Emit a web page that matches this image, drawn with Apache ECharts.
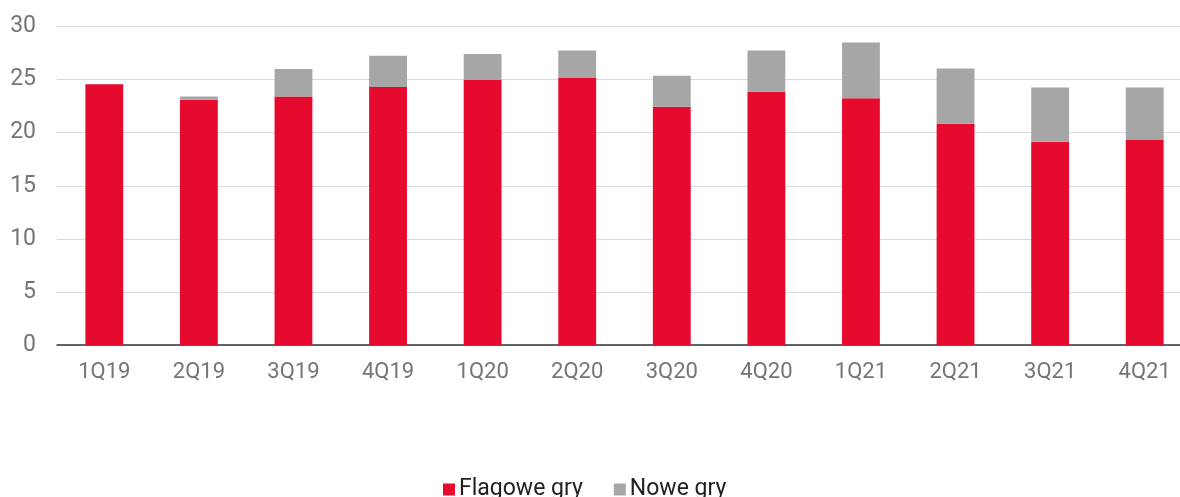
<!DOCTYPE html>
<html>
<head>
<meta charset="utf-8">
<script src="https://cdn.jsdelivr.net/npm/echarts@6/dist/echarts.min.js"></script>
<style>html,body{margin:0;padding:0;background:#fff}#c{width:1180px;height:497px}</style>
</head>
<body>
<div id="c"></div>
<script>
const categories = ['1Q19','2Q19','3Q19','4Q19','1Q20','2Q20','3Q20','4Q20','1Q21','2Q21','3Q21','4Q21'];
const flagowe = [24.55, 23.1, 23.4, 24.3, 24.95, 25.2, 22.45, 23.85, 23.25, 20.85, 19.15, 19.35];
const nowe = [0, 0.3, 2.6, 2.95, 2.45, 2.55, 2.9, 3.9, 5.25, 5.2, 5.1, 4.9];
const seriesNames = ['Flagowe gry', 'Nowe gry'];
const yTicks = { min: 0, max: 30, interval: 5 };

const chart = echarts.init(document.getElementById('c'), null, { renderer: 'canvas' });
chart.setOption({
  animation: false,
  textStyle: { fontFamily: 'Roboto' },
  grid: { left: 57, width: 1135, top: 26.5, height: 318.5, containLabel: false, outerBoundsMode: 'none' },
  legend: {
    data: seriesNames,
    bottom: -4,
    left: 443,
    padding: 0,
    itemWidth: 12,
    itemHeight: 12,
    itemGap: 31,
    icon: 'rect',
    textStyle: { fontSize: 23, color: '#212121', fontFamily: 'Roboto', padding: [0, 0, 0, -1] }
  },
  xAxis: {
    type: 'category',
    data: categories,
    axisLine: { lineStyle: { color: '#333', width: 1.5 } },
    axisTick: { show: false },
    axisLabel: { color: '#757575', fontSize: 22, margin: 16 }
  },
  yAxis: {
    type: 'value',
    min: yTicks.min, max: yTicks.max, interval: yTicks.interval,
    axisLine: { show: false },
    axisTick: { show: false },
    splitLine: { lineStyle: { color: '#dadada', width: 1.2 } },
    axisLabel: { color: '#757575', fontSize: 23, margin: 21 }
  },
  series: [
    { name: seriesNames[0], type: 'bar', stack: 's', data: flagowe, barWidth: '40%',
      itemStyle: { color: '#E60A2E' } },
    { name: seriesNames[1], type: 'bar', stack: 's', data: nowe, barWidth: '40%',
      itemStyle: { color: '#A6A6A6' } }
  ]
});
</script>
</body>
</html>
